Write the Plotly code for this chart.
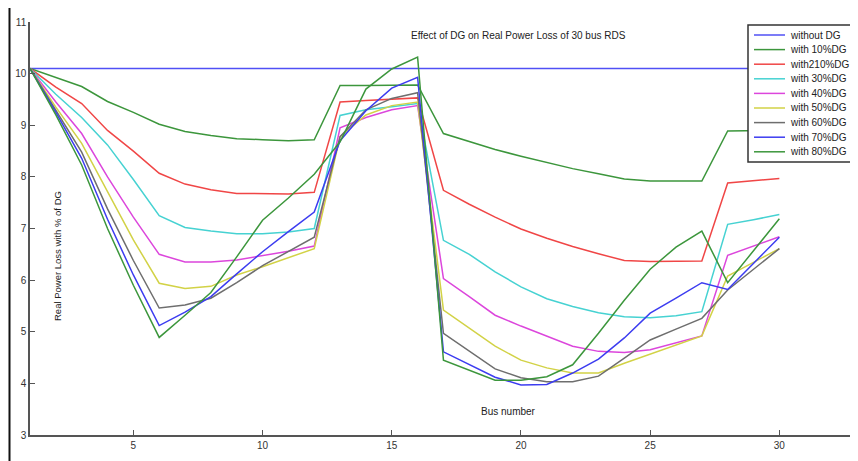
import plotly.graph_objects as go

bus = list(range(1, 31))

without_dg = [10.1] * 30
with_10 = [10.1, 9.92, 9.75, 9.46, 9.25, 9.02, 8.88, 8.8, 8.74, 8.72, 8.7, 8.72, 9.77, 9.77, 9.78, 9.78,
           8.84, 8.68, 8.53, 8.4, 8.28, 8.16, 8.06, 7.96, 7.92, 7.92, 7.92, 8.89, 8.89, 8.9]
with_20 = [10.1, 9.74, 9.42, 8.9, 8.5, 8.07, 7.86, 7.75, 7.68, 7.67, 7.67, 7.7, 9.45, 9.48, 9.5, 9.53,
           7.74, 7.47, 7.22, 6.99, 6.81, 6.65, 6.51, 6.38, 6.36, 6.36, 6.37, 7.88, 7.92, 7.97]
with_30 = [10.1, 9.6, 9.15, 8.62, 7.95, 7.25, 7.02, 6.95, 6.9, 6.9, 6.93, 7.0, 9.19, 9.3, 9.36, 9.42,
           6.77, 6.5, 6.16, 5.87, 5.64, 5.49, 5.37, 5.29, 5.27, 5.31, 5.39, 7.08, 7.17, 7.27]
with_40 = [10.1, 9.45, 8.84, 8.0, 7.22, 6.5, 6.35, 6.35, 6.39, 6.47, 6.56, 6.66, 8.95, 9.15, 9.3, 9.38,
           6.03, 5.68, 5.32, 5.11, 4.92, 4.72, 4.62, 4.6, 4.65, 4.78, 4.92, 6.48, 6.66, 6.84]
with_50 = [10.1, 9.35, 8.65, 7.7, 6.78, 5.94, 5.84, 5.88, 6.1, 6.26, 6.43, 6.61, 8.78, 9.2, 9.38, 9.45,
           5.42, 5.07, 4.72, 4.45, 4.3, 4.2, 4.2, 4.39, 4.57, 4.74, 4.92, 6.08, 6.35, 6.61]
with_60 = [10.1, 9.3, 8.48, 7.38, 6.38, 5.46, 5.52, 5.65, 5.95, 6.28, 6.56, 6.83, 8.78, 9.3, 9.52, 9.63,
           4.97, 4.63, 4.28, 4.11, 4.03, 4.03, 4.14, 4.49, 4.84, 5.05, 5.26, 5.81, 6.21, 6.61]
with_70 = [10.1, 9.25, 8.36, 7.18, 6.1, 5.12, 5.38, 5.68, 6.12, 6.55, 6.94, 7.32, 8.7, 9.28, 9.72, 9.93,
           4.61, 4.37, 4.12, 3.97, 3.98, 4.2, 4.47, 4.88, 5.36, 5.65, 5.95, 5.82, 6.33, 6.83]
with_80 = [10.1, 9.2, 8.23, 7.0, 5.9, 4.89, 5.32, 5.76, 6.45, 7.16, 7.59, 8.05, 8.68, 9.7, 10.09, 10.32,
           4.45, 4.26, 4.06, 4.06, 4.13, 4.36, 4.97, 5.61, 6.21, 6.64, 6.95, 5.95, 6.58, 7.19]

series_names = ["without DG", "with 10%DG", "with210%DG", "with 30%DG", "with 40%DG",
                "with 50%DG", "with 60%DG", "with 70%DG", "with 80%DG"]
series_values = [without_dg, with_10, with_20, with_30, with_40, with_50, with_60, with_70, with_80]
colors = ["#5050f5", "#3c963c", "#f04646", "#46d2d2", "#dc46dc",
          "#d2d246", "#6e6e6e", "#3c3cf0", "#3c963c"]

x_ticks = [5, 10, 15, 20, 25, 30]
y_ticks = [3, 4, 5, 6, 7, 8, 9, 10, 11]

OFF = 8  # page body margin offset
W, H = 858 - OFF, 461 - OFF
L, R, T, B = 22, 0, 14, 26
PW, PH = W - L - R, H - T - B


def px(x):
    return (x - OFF - L) / PW


def py(y):
    return 1 - (y - OFF - T) / PH


FONT = "Liberation Sans, Arial, sans-serif"

fig = go.Figure()
for name, vals, col in zip(series_names, series_values, colors):
    fig.add_trace(go.Scatter(x=bus, y=vals, mode="lines", name=name,
                             line=dict(color=col, width=1.5), showlegend=False))

shapes = []
annotations = []
# outer frame (top and left edges of the screenshot border)
shapes.append(dict(type="line", xref="paper", yref="paper", x0=px(9.5), x1=px(9.5),
                    y0=py(7), y1=py(470), line=dict(color="#111", width=2)))
shapes.append(dict(type="line", xref="paper", yref="paper", x0=px(9.5), x1=px(870),
                    y0=py(7), y1=py(7), line=dict(color="#111", width=2)))

# legend box
shapes.append(dict(type="rect", xref="paper", yref="paper", x0=px(748), x1=px(851),
                    y0=py(25), y1=py(162), fillcolor="white", line=dict(color="#333", width=1.5)))
for i, (name, col) in enumerate(zip(series_names, colors)):
    yy = 35 + i * 14.6
    shapes.append(dict(type="line", xref="paper", yref="paper", x0=px(754), x1=px(785),
                        y0=py(yy), y1=py(yy), line=dict(color=col, width=1.5)))
    annotations.append(dict(x=px(788), y=py(yy), xref="paper", yref="paper", text=name,
                            showarrow=False, xanchor="left", yanchor="middle",
                            font=dict(family=FONT, size=10, color="#222")))

annotations.append(dict(x=px(519), y=py(35), xref="paper", yref="paper",
                        text="Effect of DG on Real Power Loss of 30 bus RDS", showarrow=False,
                        xanchor="center", yanchor="middle",
                        font=dict(family=FONT, size=10, color="#222")))
annotations.append(dict(x=px(57), y=py(256), xref="paper", yref="paper",
                        text="Real Power Loss with % of DG", showarrow=False, textangle=-90,
                        xanchor="center", yanchor="middle",
                        font=dict(family=FONT, size=9.5, color="#222")))
annotations.append(dict(x=px(508), y=py(411), xref="paper", yref="paper",
                        text="Bus number", showarrow=False,
                        xanchor="center", yanchor="middle",
                        font=dict(family=FONT, size=10, color="#222")))

fig.update_layout(
    width=W, height=H,
    margin=dict(l=L, r=R, t=T, b=B),
    paper_bgcolor="white", plot_bgcolor="white",
    shapes=shapes, annotations=annotations,
    showlegend=False,
    xaxis=dict(range=[1, 1 + PW / 25.84], tickvals=x_ticks, ticktext=[str(v) for v in x_ticks],
               showgrid=False, zeroline=False, showline=True, linecolor="#555", linewidth=1.5,
               ticks="inside", ticklen=5, tickcolor="#555", tickwidth=1.2,
               tickfont=dict(family=FONT, size=10, color="#333")),
    yaxis=dict(range=[3, 11], tickvals=y_ticks, ticktext=[str(v) for v in y_ticks],
               showgrid=False, zeroline=False, showline=True, linecolor="#555", linewidth=1.5,
               ticks="inside", ticklen=5, tickcolor="#555", tickwidth=1.2,
               tickfont=dict(family=FONT, size=10, color="#333")),
)

fig.write_html("out.html")
